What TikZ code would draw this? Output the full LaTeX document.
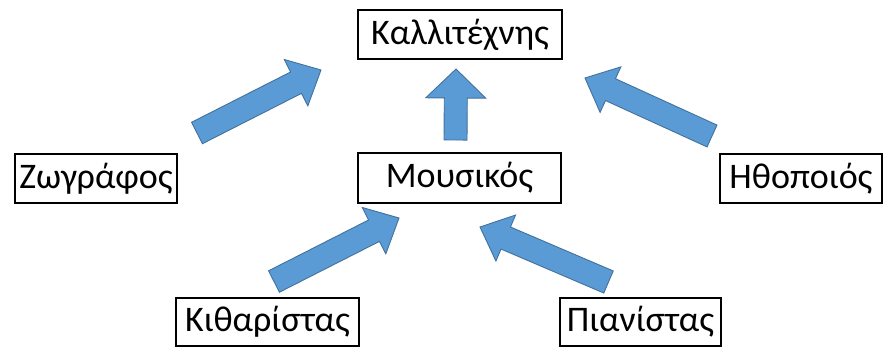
\documentclass[tikz,border=0pt]{standalone}
\usepackage{fontspec}
\setmainfont{Carlito}
\usetikzlibrary{calc}
\definecolor{arrfill}{HTML}{5B9BD5}
\definecolor{arrdraw}{HTML}{41719C}
\tikzset{
  box/.style={draw=black, line width=1.6pt, fill=white, inner sep=0pt, align=center,
    font=\fontsize{36}{40}\selectfont},
  blk/.style={fill=arrfill, draw=arrdraw, line width=0.9pt, line join=miter},
}
\newcommand{\blockarrow}[6]{% #1 tail, #2 tip, #3 shaft half, #4 head half, #5 head length, #6 name of head base
  \coordinate (#6) at ($(#2)!#5!(#1)$);
  \draw[blk] ($(#1)!#3!90:(#2)$) -- ($(#6)!#3!90:(#2)$) -- ($(#6)!#4!90:(#2)$) -- (#2)
    -- ($(#6)!#4!-90:(#2)$) -- ($(#6)!#3!-90:(#2)$) -- ($(#1)!#3!-90:(#2)$) -- cycle;
}
\begin{document}
\begin{tikzpicture}[x=1pt,y=-1pt]
\useasboundingbox (0,0) rectangle (888,347);
% nodes
\node[box, minimum width=204pt, minimum height=49pt] (kal) at (460,34.5) {Καλλιτέχνης};
\node[box, minimum width=203pt, minimum height=50pt] (mous) at (459.5,178) {Μουσικός};
\node[box, minimum width=162pt, minimum height=49pt] (zog) at (96,178.5) {Ζωγράφος};
\node[box, minimum width=162pt, minimum height=49pt] (itho) at (801,178.5) {Ηθοποιός};
\node[box, minimum width=183pt, minimum height=48pt] (kith) at (267.5,322) {Κιθαρίστας};
\node[box, minimum width=161pt, minimum height=48pt] (pian) at (640.5,322) {Πιανίστας};
% arrow end points
\coordinate (upT) at (455.5,140);  \coordinate (upH) at (456,69);
\coordinate (ulT) at (197,133);    \coordinate (ulH) at (321,70);
\coordinate (urT) at (712,136);    \coordinate (urH) at (585,78);
\coordinate (llT) at (274,281.5);  \coordinate (llH) at (399,218);
\coordinate (lrT) at (608.5,282);  \coordinate (lrH) at (480,227);
% block arrows
\blockarrow{upT}{upH}{11.5pt}{30pt}{29pt}{upB}
\blockarrow{ulT}{ulH}{12pt}{26pt}{28pt}{ulB}
\blockarrow{urT}{urH}{12pt}{25pt}{28pt}{urB}
\blockarrow{llT}{llH}{12pt}{26pt}{28pt}{llB}
\blockarrow{lrT}{lrH}{12pt}{25pt}{28pt}{lrB}
\end{tikzpicture}
\end{document}
